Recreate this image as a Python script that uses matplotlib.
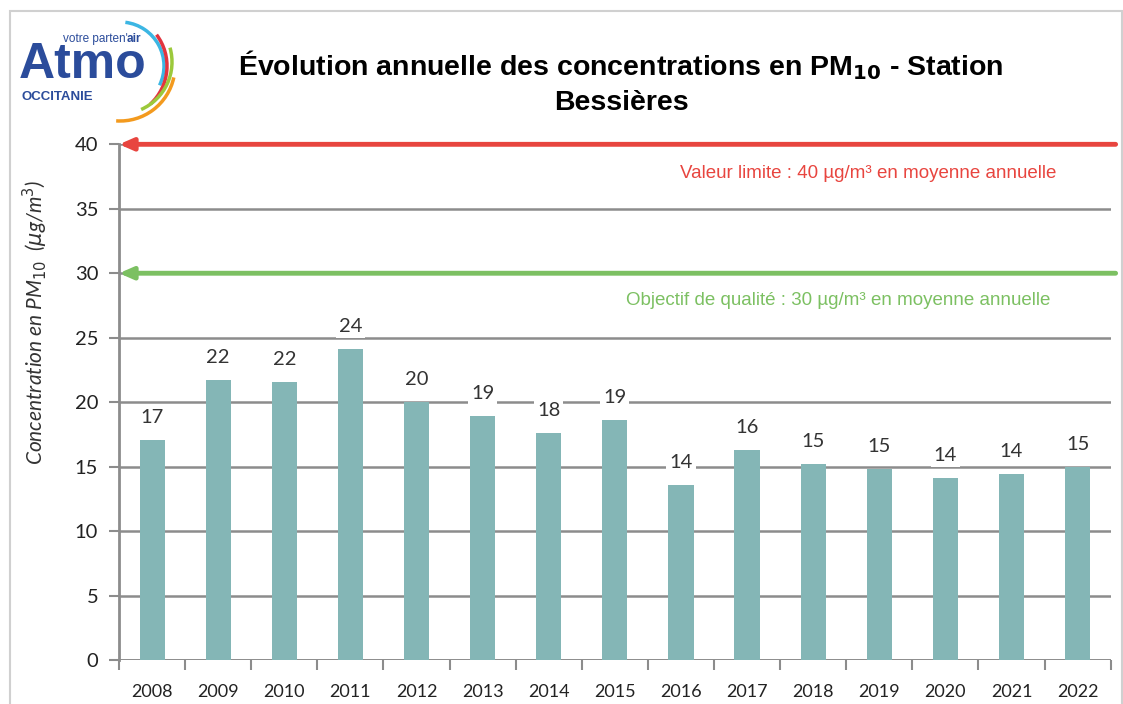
import numpy as np
import matplotlib
matplotlib.use("Agg")
import matplotlib.pyplot as plt
from matplotlib.patches import Rectangle, Arc

years = ['2008', '2009', '2010', '2011', '2012', '2013', '2014', '2015',
         '2016', '2017', '2018', '2019', '2020', '2021', '2022']
pm10 = [17.05, 21.7, 21.55, 24.1, 20.0, 18.9, 17.6, 18.6,
        13.6, 16.3, 15.2, 14.8, 14.1, 14.4, 15.0]
valeur_limite = 40
objectif_qualite = 30

fig = plt.figure(figsize=(11.23, 7.04), dpi=100)
# light frame around the whole chart
fig.patches.append(Rectangle((0.009, -0.02), 0.99, 1.005, transform=fig.transFigure,
                             fill=False, edgecolor='#d0d0d0', lw=1.5))

ax = fig.add_axes([0.106, 0.0625, 0.883, 0.7325])
x = np.arange(len(years))
ax.bar(x, pm10, width=0.38, color='#84b6b6', zorder=3)

for xi, v in zip(x, pm10):
    ax.annotate(f'{v:.0f}', (xi, v), xytext=(0, 10), textcoords='offset points',
                ha='center', va='bottom', fontsize=14.5, family='Lato', color='#333333',
                bbox=dict(boxstyle='square,pad=0.15', fc='white', ec='none'), zorder=4)

ax.set_ylim(0, 40)
ax.set_xlim(-0.5, len(years) - 0.5)
ax.set_yticks(range(0, 41, 5))
ax.yaxis.grid(True, color='#8c8c8c', lw=1.8, zorder=0)
ax.set_axisbelow(True)
for s in ['top', 'right', 'bottom']:
    ax.spines[s].set_visible(False)
ax.spines['left'].set_color('#8c8c8c')
ax.spines['left'].set_linewidth(2)
ax.axhline(0, color='#8c8c8c', lw=2, zorder=2)

ax.set_xticks(x)
ax.set_xticklabels(years, family='Lato', fontsize=13, color='#222222')
ax.set_xticks(np.arange(-0.5, len(years)), minor=True)
ax.tick_params(axis='x', which='major', length=0, pad=17)
ax.tick_params(axis='x', which='minor', length=7, width=1.5, color='#8c8c8c')
ax.tick_params(axis='y', length=7, width=1.5, color='#8c8c8c', labelsize=14.5,
               labelcolor='#222222', pad=8)
for lab in ax.get_yticklabels():
    lab.set_family('Lato')

ax.set_ylabel('Concentration en PM$_{10}$  ($\\mu$g/m$^3$)', family='Lato', style='italic',
              fontsize=15, color='#333333')
ax.yaxis.set_label_coords(-0.07, 0.655)

# reference lines with arrows on the left
for val, col in [(valeur_limite, '#e8453f'), (objectif_qualite, '#7cc062')]:
    ax.annotate('', xy=(-0.5, val), xycoords='data', xytext=(1.005, val),
                textcoords=('axes fraction', 'data'),
                arrowprops=dict(arrowstyle='-|>,head_length=0.8,head_width=0.35',
                                color=col, lw=3.5, shrinkA=0, shrinkB=0),
                annotation_clip=False, zorder=5)

ax.text(0.755, 37.75, 'Valeur limite : 40 µg/m³ en moyenne annuelle', transform=ax.get_yaxis_transform(),
        ha='center', va='center', fontsize=13.5, family='Liberation Sans', color='#e8453f')
ax.text(0.725, 27.9, 'Objectif de qualité : 30 µg/m³ en moyenne annuelle', transform=ax.get_yaxis_transform(),
        ha='center', va='center', fontsize=13.5, family='Liberation Sans', color='#7cc062')

fig.text(0.553, 0.908, 'Évolution annuelle des concentrations en PM$_{\\mathbf{10}}$ - Station',
         ha='center', va='center', fontsize=20.5, weight='bold', family='Liberation Sans')
fig.text(0.553, 0.853, 'Bessières', ha='center', va='center', fontsize=20.5, weight='bold',
         family='Liberation Sans')

# logo
fig.text(0.017, 0.907, 'Atmo', fontsize=36, weight='bold', color='#2b4c9b',
         family='Liberation Sans', ha='left', va='center')
fig.text(0.019, 0.862, 'OCCITANIE', fontsize=9.5, weight='bold', color='#2b4c9b',
         family='Liberation Sans', ha='left', va='center')
fig.text(0.056, 0.945, "votre parten'", fontsize=8.5, color='#2b4c9b',
         family='Liberation Sans', ha='left', va='center')
fig.text(0.113, 0.945, "air", fontsize=8.5, color='#2b4c9b', weight='bold',
         family='Liberation Sans', ha='left', va='center')
lax = fig.add_axes([60 / 1123, (704 - 130) / 704, 130 / 1123, 120 / 704])
lax.set_xlim(60, 190)
lax.set_ylim(704 - 130, 704 - 10)
lax.axis('off')
for cx, cy, r, t1, t2, c in [(120, 638, 44, -26, 83, '#3cb6e3'),
                              (115, 638, 52, -47, 37, '#e2343f'),
                              (120, 642, 52, -66, 16, '#9cc93b'),
                              (120, 638, 55, -94, -12, '#f39a1e')]:
    lax.add_patch(Arc((cx, cy), 2 * r, 2 * r, theta1=t1, theta2=t2, color=c, lw=2.5))

fig.savefig('out.png', dpi=100)
